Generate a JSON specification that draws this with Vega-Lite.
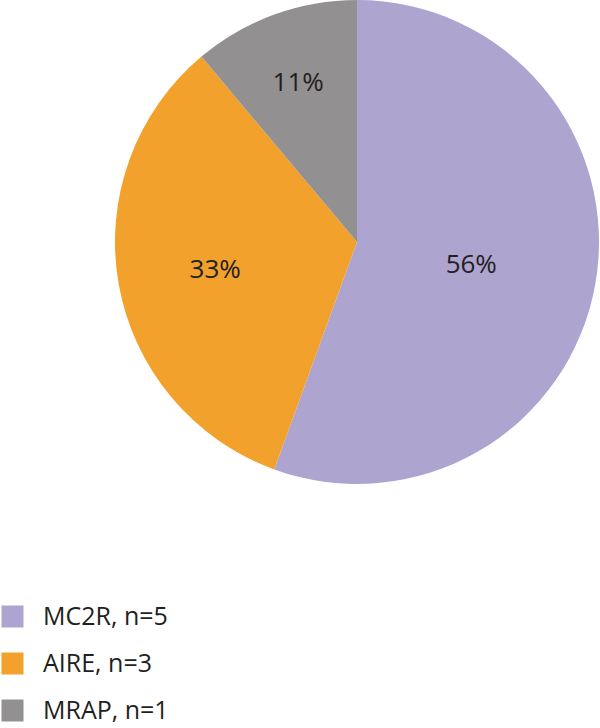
{
  "$schema": "https://vega.github.io/schema/vega-lite/v6.json",
  "width": 484,
  "height": 484,
  "autosize": "none",
  "padding": {"left": 115, "top": 0, "right": 1, "bottom": 244},
  "background": "white",
  "data": {
    "values": [
      {"gene": "MC2R, n=5", "n": 5, "pct": "56%", "ord": 1},
      {"gene": "AIRE, n=3", "n": 3, "pct": "33%", "ord": 2},
      {"gene": "MRAP, n=1", "n": 1, "pct": "11%", "ord": 3}
    ]
  },
  "encoding": {
    "theta": {"field": "n", "type": "quantitative", "stack": true},
    "order": {"field": "ord", "type": "quantitative"},
    "color": {
      "field": "gene",
      "type": "nominal",
      "scale": {
        "domain": ["MC2R, n=5", "AIRE, n=3", "MRAP, n=1"],
        "range": ["#ADA4D0", "#F2A12C", "#929090"]
      },
      "legend": {
        "title": null,
        "orient": "none",
        "legendX": -115,
        "legendY": 604,
        "symbolType": "square",
        "symbolSize": 484,
        "symbolStrokeWidth": 0,
        "symbolOpacity": 1,
        "labelFont": "Open Sans",
        "labelFontSize": 25,
        "labelColor": "#231F20",
        "labelOffset": 18,
        "rowPadding": 21,
        "padding": 0
      }
    }
  },
  "layer": [
    {"mark": {"type": "arc"}},
    {
      "mark": {"type": "text", "font": "Open Sans", "fontSize": 26, "color": "#231F20", "dy": 3},
      "encoding": {
        "text": {"field": "pct"},
        "color": {"value": "#231F20"},
        "radius": {
          "field": "n",
          "type": "quantitative",
          "scale": {"type": "linear", "domain": [1, 5], "range": [172, 116]}
        }
      }
    }
  ],
  "config": {"view": {"stroke": null}}
}
